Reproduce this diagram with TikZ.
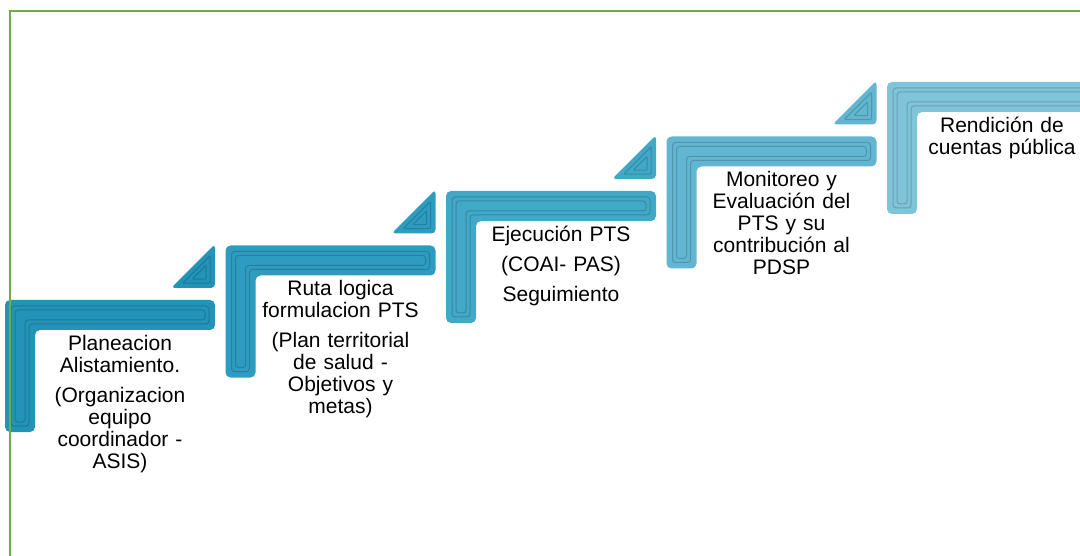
\documentclass[tikz,border=0pt]{standalone}
\usepackage{fontspec}
\setmainfont{Liberation Sans}
\usetikzlibrary{positioning}
\definecolor{stepA}{HTML}{2394B8}
\definecolor{stepB}{HTML}{2E9CC0}
\definecolor{stepC}{HTML}{42A8C8}
\definecolor{stepD}{HTML}{62B6D1}
\definecolor{stepE}{HTML}{80C4DA}
\definecolor{bordergreen}{RGB}{112,173,71}
\tikzset{
  stair/.style = {rounded corners=5pt},
  groove/.style = {line width=1pt, rounded corners=3pt},
  stair label/.style = {text width=185pt, align=center, anchor=base, inner sep=0pt,
                        font=\fontsize{21}{22}\selectfont},
  border line/.style = {draw=bordergreen, line width=2pt},
}
\newcommand{\drawstairstep}[4]{%
  %% One stair of the ladder:
  %% Arguments:
  %%    1. Name
  %%    2. Top left corner
  %%    3. Colour
  %%    4. Label
  \coordinate (#1) at (#2);
  \begin{scope}[shift={(#1)}]
    \fill [#3, stair] (0,0) -- (210,0) -- (210,30) -- (30,30) -- (30,132) -- (0,132) -- cycle;
    \foreach \d in {6,10}{%
      \draw [groove, #3!82!black]
        (\d,\d) -- (210-\d,\d) -- (210-\d,30-\d) -- (30-\d,30-\d) -- (30-\d,132-\d) -- (\d,132-\d) -- cycle;
    }
  \end{scope}
  \node [stair label] (#1_label) at ([shift={(115,50.5)}] #1) {#4};
}
\newcommand{\drawstairflag}[2]{%
  %% The small triangle at the end of a stair
  \begin{scope}[shift={(#1)}]
    \fill [#2, rounded corners=4pt] (166,-12) -- (210,-56) -- (210,-12) -- cycle;
    \foreach \k in {0.62,0.32}{%
      \begin{scope}[shift={(197.1,-24.9)}, scale=\k]
        \draw [groove, rounded corners=1pt, #2!82!black] (-31.1,12.9) -- (12.9,-31.1) -- (12.9,12.9) -- cycle;
      \end{scope}
    }
  \end{scope}
}

\begin{document}
\begin{tikzpicture}[x=1pt, y=-1pt]
  \useasboundingbox (0,0) rectangle (1080,556);

  %% The five stairs, climbing to the right
  \drawstairstep{plan}{5,300}{stepA}{Planeacion\\Alistamiento.\\[8pt](Organizacion\\equipo\\coordinador -\\ASIS)}
  \drawstairstep{ruta}{225.5,245.5}{stepB}{Ruta logica\\formulacion PTS\\[8pt](Plan territorial\\de salud -\\Objetivos y\\metas)}
  \drawstairstep{ejec}{446,191}{stepC}{Ejecución PTS\\[8pt](COAI- PAS)\\[8pt]Seguimiento}
  \drawstairstep{moni}{666.5,136.5}{stepD}{Monitoreo y\\Evaluación del\\PTS y su\\contribución al\\PDSP}
  \drawstairstep{rend}{887,82}{stepE}{Rendición de\\cuentas pública}

  %% Flags in front of the next stair
  \foreach \s/\c in {plan/stepA, ruta/stepB, ejec/stepC, moni/stepD}{%
    \drawstairflag{\s}{\c}
  }

  %% Green border, open to the right and below
  \draw [border line] (9.5,11.5) rectangle (1100,580);
\end{tikzpicture}
\end{document}
